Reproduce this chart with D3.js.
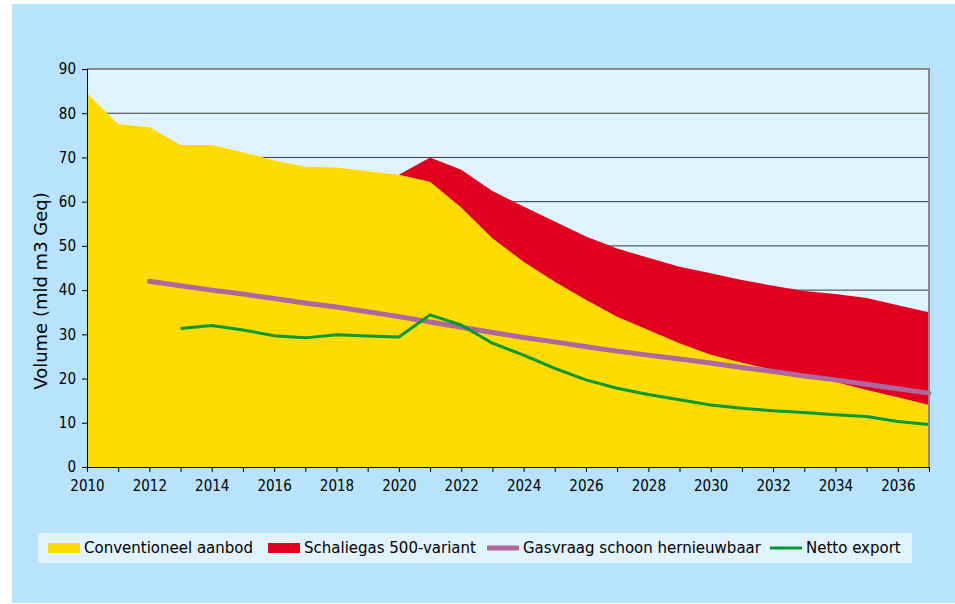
<!DOCTYPE html>
<html>
<head>
<meta charset="utf-8">
<script src="https://cdn.jsdelivr.net/npm/d3@7"></script>
<style>
  body { margin: 0; background: #fff; }
  text { font-family: "DejaVu Sans Condensed", "DejaVu Sans", sans-serif; fill: #000; }
</style>
</head>
<body>
<div id="wrapper"></div>
<script>
const years = [2010, 2011, 2012, 2013, 2014, 2015, 2016, 2017, 2018, 2019,
  2020, 2021, 2022, 2023, 2024, 2025, 2026, 2027, 2028, 2029,
  2030, 2031, 2032, 2033, 2034, 2035, 2036, 2037];

// Conventioneel aanbod
const conventioneel = [84.6, 77.5, 76.8, 72.8, 72.8, 71.2, 69.3, 67.9, 67.7, 66.9,
  66.1, 64.5, 58.7, 51.7, 46.4, 41.9, 37.8, 34.0, 31.0, 28.0,
  25.4, 23.6, 22.0, 20.7, 19.2, 17.4, 15.8, 14.0];

// Schaliegas 500-variant (stacked on top)
const schaliegas = [0, 0, 0, 0, 0, 0, 0, 0, 0, 0,
  0, 5.5, 8.5, 10.7, 12.5, 13.6, 14.3, 15.4, 16.3, 17.3,
  18.4, 18.7, 19.0, 19.1, 19.9, 20.8, 20.8, 21.0];

// Gasvraag schoon hernieuwbaar
const gasvraag = [null, null, 42.0, 41.0, 40.0, 39.1, 38.1, 37.1, 36.2, 35.1,
  34.0, 32.8, 31.6, 30.4, 29.3, 28.3, 27.2, 26.2, 25.3, 24.4,
  23.5, 22.5, 21.6, 20.6, 19.7, 18.7, 17.7, 16.7];

// Netto export
const nettoExport = [null, null, null, 31.3, 32.0, 31.0, 29.7, 29.2, 29.9, 29.6,
  29.4, 34.4, 32.1, 28.0, 25.3, 22.3, 19.7, 17.8, 16.4, 15.2,
  14.0, 13.3, 12.7, 12.3, 11.8, 11.4, 10.3, 9.6];

const yTicks = [0, 10, 20, 30, 40, 50, 60, 70, 80, 90];
const xLabels = [2010, 2012, 2014, 2016, 2018, 2020, 2022, 2024, 2026, 2028, 2030, 2032, 2034, 2036];

const legendItems = [
  {name: "Conventioneel aanbod", color: "#ffdb00", type: "box"},
  {name: "Schaliegas 500-variant", color: "#e2001f", type: "box"},
  {name: "Gasvraag schoon hernieuwbaar", color: "#b0679f", type: "line"},
  {name: "Netto export", color: "#009933", type: "line"}
];

const width = 955, height = 604;
const margin = {top: 69, right: 26, bottom: 137, left: 87};

const svg = d3.select("#wrapper").append("svg")
  .attr("width", width)
  .attr("height", height);

// outer background
svg.append("rect")
  .attr("x", 12).attr("y", 4)
  .attr("width", width - 12).attr("height", height - 5)
  .attr("fill", "#b8e3fd");

const x = d3.scaleLinear()
  .domain([2010, 2037])
  .range([margin.left, width - margin.right]);

const y = d3.scaleLinear()
  .domain([0, 90])
  .range([height - margin.bottom, margin.top]);

// plot background
svg.append("rect")
  .attr("x", x(2010)).attr("y", y(90))
  .attr("width", x(2037) - x(2010)).attr("height", y(0) - y(90))
  .attr("fill", "#e0f3fe");

// gridlines
svg.append("g")
  .selectAll("line")
  .data(yTicks.filter(d => d > 0 && d < 90))
  .join("line")
  .attr("x1", x(2010)).attr("x2", x(2037))
  .attr("y1", d => y(d)).attr("y2", d => y(d))
  .attr("stroke", "#3a3a3a")
  .attr("stroke-width", 1);

// stacked areas
const table = years.map((yr, i) => ({year: yr, conv: conventioneel[i], schalie: schaliegas[i]}));
const series = d3.stack().keys(["conv", "schalie"])(table);
const areaColors = ["#ffdb00", "#e2001f"];

const area = d3.area()
  .x(d => x(d.data.year))
  .y0(d => y(d[0]))
  .y1(d => y(d[1]));

svg.append("g")
  .selectAll("path")
  .data(series)
  .join("path")
  .attr("d", area)
  .attr("fill", (d, i) => areaColors[i]);

// lines
const line = d3.line()
  .defined(d => d.v != null)
  .x(d => x(d.year))
  .y(d => y(d.v));

svg.append("path")
  .datum(years.map((yr, i) => ({year: yr, v: gasvraag[i]})))
  .attr("d", line)
  .attr("fill", "none")
  .attr("stroke", "#b0679f")
  .attr("stroke-width", 5)
  .attr("stroke-linecap", "round");

svg.append("path")
  .datum(years.map((yr, i) => ({year: yr, v: nettoExport[i]})))
  .attr("d", line)
  .attr("fill", "none")
  .attr("stroke", "#009933")
  .attr("stroke-width", 3)
  .attr("stroke-linejoin", "round");

// frame top and right
svg.append("path")
  .attr("d", `M${x(2010)},${y(90)}H${x(2037)}V${y(0)}`)
  .attr("fill", "none")
  .attr("stroke", "#8a8a8a")
  .attr("stroke-width", 2);

// y axis
const yAxis = svg.append("g")
  .attr("transform", `translate(${x(2010)},0)`)
  .call(d3.axisLeft(y).tickValues(yTicks).tickSize(5).tickPadding(6));
yAxis.selectAll("text").style("font-size", "15px");
yAxis.selectAll("path, line").attr("stroke", "#000");

// x axis
const xAxis = svg.append("g")
  .attr("transform", `translate(0,${y(0)})`)
  .call(d3.axisBottom(x).tickValues(years).tickSize(5).tickPadding(8)
    .tickFormat(d => xLabels.includes(d) ? d : ""));
xAxis.selectAll("text").style("font-size", "15px");
xAxis.selectAll("path, line").attr("stroke", "#000");

// y title
svg.append("text")
  .attr("transform", `translate(47,291) rotate(-90)`)
  .attr("text-anchor", "middle")
  .style("font-family", "'DejaVu Sans', sans-serif")
  .style("font-size", "18px")
  .text("Volume (mld m3 Geq)");

// legend
svg.append("rect")
  .attr("x", 38).attr("y", 533)
  .attr("width", 874).attr("height", 30)
  .attr("fill", "#e0f3fe");

const legendX = [48, 268, 487, 770];
const legend = svg.append("g")
  .selectAll("g")
  .data(legendItems)
  .join("g")
  .attr("transform", (d, i) => `translate(${legendX[i]},548)`);

legend.filter(d => d.type === "box").append("rect")
  .attr("x", 0).attr("y", -5)
  .attr("width", 32).attr("height", 10)
  .attr("fill", d => d.color);

legend.filter(d => d.type === "line").append("line")
  .attr("x1", 0).attr("x2", 32)
  .attr("y1", 0).attr("y2", 0)
  .attr("stroke", d => d.color)
  .attr("stroke-width", d => d.name === "Netto export" ? 3 : 5);

legend.append("text")
  .attr("x", 36).attr("dy", "0.35em")
  .style("font-family", "'DejaVu Sans', sans-serif")
  .style("font-size", "15px")
  .text(d => d.name);
</script>
</body>
</html>
